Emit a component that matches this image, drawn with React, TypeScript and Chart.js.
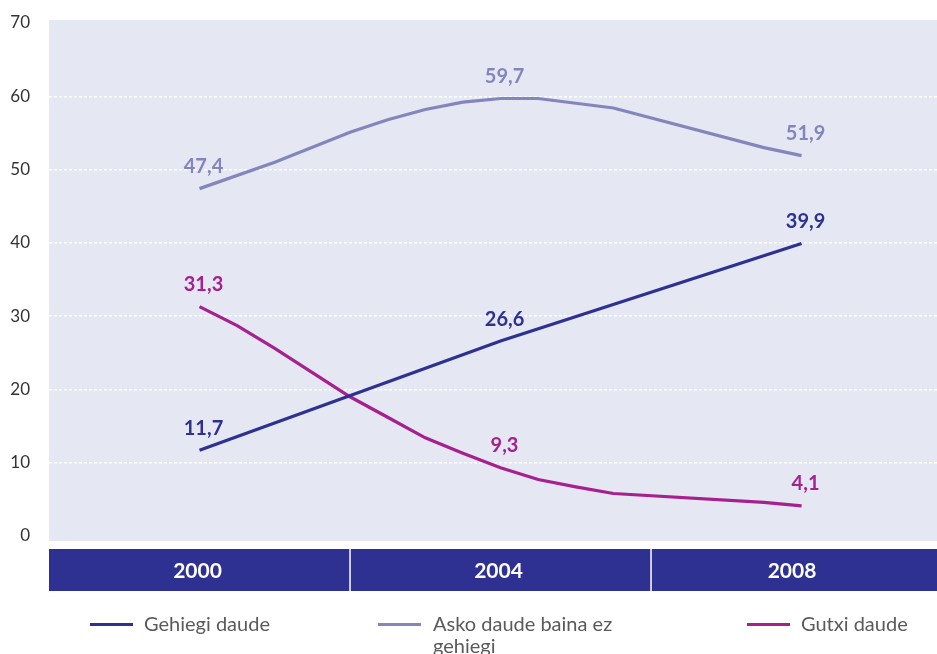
import React, { useEffect, useRef } from "react";
import { Chart, registerables } from "chart.js";

Chart.register(...registerables);

// ---- data ----
const years = ["2000", "2004", "2008"];
const bandEdges = [1998, 2002, 2006, 2009.8];
const labelYears = [2000, 2004, 2008];
const yTicks = [0, 10, 20, 30, 40, 50, 60, 70];

const seriesNames = ["Gehiegi daude", "Asko daude baina ez gehiegi", "Gutxi daude"];
const seriesColors = ["#2e3192", "#8585be", "#a6218f"];

const xGehiegi = [2000, 2004, 2008];
const gehiegi = [11.7, 26.6, 39.9];

const xAsko = [2000, 2001, 2002, 2002.5, 2003, 2003.5, 2004, 2004.5, 2005.5, 2007.5, 2008];
const asko = [47.4, 51.0, 55.1, 56.8, 58.2, 59.2, 59.7, 59.7, 58.4, 53.0, 51.9];

const xGutxi = [2000, 2000.5, 2001, 2001.5, 2002, 2002.5, 2003, 2003.5, 2004, 2004.5, 2005, 2005.5, 2007.5, 2008];
const gutxi = [31.3, 28.7, 25.6, 22.3, 19.0, 16.2, 13.4, 11.3, 9.3, 7.7, 6.7, 5.8, 4.6, 4.1];

const FONT = "Lato, 'Noto Sans', sans-serif";
const BG = "#e5e7f3";
const BAND = "#2e3192";

const toPts = (xs: number[], ys: number[]) => xs.map((x, i) => ({ x, y: ys[i] }));

const bgPlugin = {
  id: "bgPlugin",
  beforeDraw(chart: any) {
    const { ctx, chartArea } = chart;
    ctx.save();
    ctx.fillStyle = BG;
    ctx.fillRect(chartArea.left, chartArea.top - 3, chartArea.right - chartArea.left, chartArea.bottom - chartArea.top + 8);
    ctx.restore();
  },
  afterDraw(chart: any) {
    const { ctx, chartArea } = chart;
    const xs = chart.scales.x;
    const top = chartArea.bottom + 13;
    const h = 42;
    ctx.save();
    ctx.fillStyle = BAND;
    ctx.fillRect(chartArea.left, top, chartArea.right - chartArea.left, h);
    const px = bandEdges.map((v) => Math.max(chartArea.left, Math.min(chartArea.right, xs.getPixelForValue(v))));
    ctx.strokeStyle = "#ffffff";
    ctx.lineWidth = 1.5;
    for (let i = 1; i < px.length - 1; i++) {
      ctx.beginPath();
      ctx.moveTo(px[i], top);
      ctx.lineTo(px[i], top + h);
      ctx.stroke();
    }
    ctx.fillStyle = "#ffffff";
    ctx.font = `bold 21px ${FONT}`;
    ctx.textAlign = "center";
    ctx.textBaseline = "middle";
    years.forEach((yr, i) => {
      ctx.fillText(yr, (px[i] + px[i + 1]) / 2 - 2, top + h / 2 + 1);
    });
    ctx.restore();
  },
};

const labelPlugin = {
  id: "labelPlugin",
  afterDatasetsDraw(chart: any) {
    const { ctx } = chart;
    ctx.save();
    ctx.font = `bold 20px ${FONT}`;
    ctx.textAlign = "center";
    ctx.textBaseline = "middle";
    chart.data.datasets.forEach((ds: any, di: number) => {
      const meta = chart.getDatasetMeta(di);
      ctx.fillStyle = ds.borderColor;
      ds.data.forEach((p: any, i: number) => {
        if (labelYears.includes(p.x)) {
          const el = meta.data[i];
          ctx.fillText(p.y.toFixed(1).replace(".", ","), el.x + 4, el.y - 22);
        }
      });
    });
    ctx.restore();
  },
};

export default function App() {
  const ref = useRef<HTMLCanvasElement | null>(null);
  useEffect(() => {
    if (!ref.current) return;
    const chart = new Chart(ref.current, {
      type: "line",
      data: {
        datasets: [
          { label: seriesNames[0], data: toPts(xGehiegi, gehiegi), borderColor: seriesColors[0], backgroundColor: seriesColors[0] },
          { label: seriesNames[1], data: toPts(xAsko, asko), borderColor: seriesColors[1], backgroundColor: seriesColors[1] },
          { label: seriesNames[2], data: toPts(xGutxi, gutxi), borderColor: seriesColors[2], backgroundColor: seriesColors[2] },
        ].map((d) => ({ ...d, borderWidth: 3.2, pointRadius: 0, tension: 0, fill: false })),
      },
      options: {
        animation: false,
        responsive: false,
        maintainAspectRatio: false,
        layout: { padding: { left: 0, right: 0, top: 23, bottom: 118 } },
        plugins: { legend: { display: false }, tooltip: { enabled: false } },
        scales: {
          x: { type: "linear", min: bandEdges[0], max: bandEdges[bandEdges.length - 1], display: false },
          y: {
            min: yTicks[0],
            max: yTicks[yTicks.length - 1],
            afterBuildTicks: (s: any) => {
              s.ticks = yTicks.map((v) => ({ value: v }));
            },
            afterFit: (s: any) => {
              s.width = 49;
              s.paddingTop = 0;
              s.paddingBottom = 0;
            },
            ticks: { padding: 19, color: "#333333", font: { family: FONT, size: 17 } },
            grid: {
              drawTicks: false,
              lineWidth: 1.5,
              color: (c: any) => (c.tick && (c.tick.value === yTicks[0] || c.tick.value === yTicks[yTicks.length - 1]) ? "rgba(0,0,0,0)" : "#ffffff"),
            },
            border: { display: false, dash: [3, 2] },
          },
        },
      },
      plugins: [bgPlugin, labelPlugin],
    } as any);
    return () => chart.destroy();
  }, []);

  const legendItem = (i: number, lineLeft: number, textLeft: number, textWidth: number) => (
    <div key={i}>
      <div style={{ position: "absolute", left: lineLeft, top: 622.5, width: 43, height: 3, background: seriesColors[i] }} />
      <div
        style={{
          position: "absolute",
          left: textLeft,
          top: 612,
          width: textWidth,
          fontFamily: FONT,
          fontSize: 20,
          lineHeight: "22px",
          color: "#5a5a5a",
        }}
      >
        {seriesNames[i]}
      </div>
    </div>
  );

  return (
    <div style={{ position: "fixed", left: 0, top: 0, width: 937, height: 654, overflow: "hidden", background: "#ffffff" }}>
      <canvas ref={ref} width={937} height={654} style={{ position: "absolute", left: 0, top: 0 }} />
      {legendItem(0, 90, 144, 200)}
      {legendItem(1, 378, 433, 200)}
      {legendItem(2, 747, 801, 150)}
    </div>
  );
}
